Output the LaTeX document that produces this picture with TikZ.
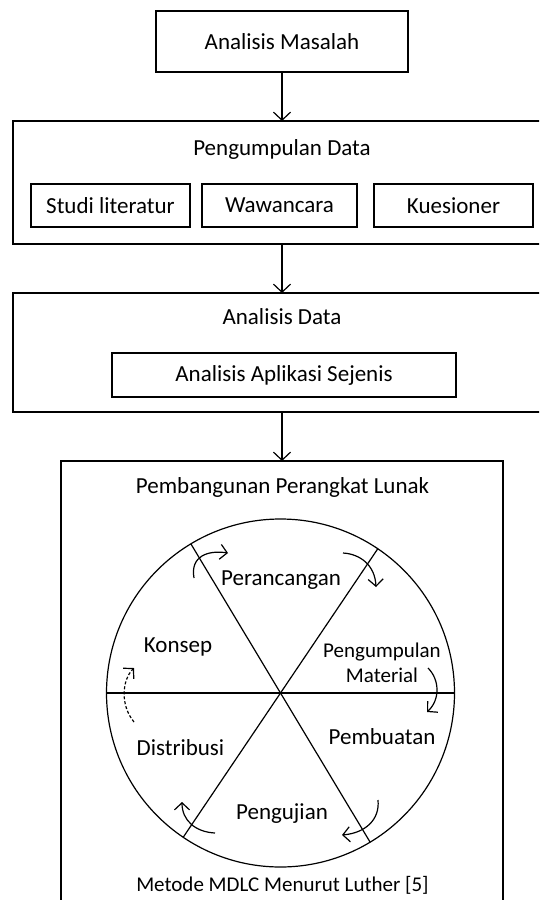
\documentclass[tikz,border=0pt]{standalone}
\usepackage{fontspec}
\setmainfont{Carlito}
\usetikzlibrary{arrows.meta}
\tikzset{
  boxstyle/.style={draw, line width=1.2pt, inner sep=0pt, outer sep=0pt, font=\fontsize{23}{27}\selectfont},
  lbl/.style={inner sep=0pt, font=\fontsize{23}{27}\selectfont},
  smalllbl/.style={inner sep=0pt, font=\fontsize{21}{25}\selectfont},
  conn/.style={line width=1.2pt, -{Straight Barb[length=8pt,width=17pt,line width=1.2pt]}},
  cyc/.style={line width=1.2pt, -{Straight Barb[length=7pt,width=15pt,line width=1.2pt]}},
}
\begin{document}
\begin{tikzpicture}[x=1pt,y=-1pt]
\path[use as bounding box] (0,0) rectangle (539,900);
\clip (0,0) rectangle (539,900);
% box 1
\node[boxstyle, minimum width=252pt, minimum height=61pt] (b1) at (282,41.5) {Analisis Masalah};
% box 2
\node[boxstyle, minimum width=538pt, minimum height=123pt] (b2) at (282,182.5) {};
\node[lbl] (t2) at (282,149) {Pengumpulan Data};
\node[boxstyle, minimum width=159pt, minimum height=43pt] (s1) at (110.5,205.5) {Studi literatur};
\node[boxstyle, minimum width=155pt, minimum height=43pt] (s2) at (279.5,205.5) {Wawancara};
\node[boxstyle, minimum width=159pt, minimum height=43pt] (s3) at (453.5,205.5) {Kuesioner};
% box 3
\node[boxstyle, minimum width=538pt, minimum height=119pt] (b3) at (282,352.5) {};
\node[lbl] (t3) at (282,317) {Analisis Data};
\node[boxstyle, minimum width=344pt, minimum height=44pt] (s4) at (284,375) {Analisis Aplikasi Sejenis};
% box 4
\node[boxstyle, minimum width=442pt, minimum height=470pt] (b4) at (282,696) {};
\node[lbl] (t4) at (282.5,487) {Pembangunan Perangkat Lunak};
\node[smalllbl] (cap) at (282.5,885) {Metode MDLC Menurut Luther [5]};
% connectors
\draw[conn] (b1.south) -- (b2.north);
\draw[conn] (b2.south) -- (b3.north);
\draw[conn] (b3.south) -- (b4.north);
% wheel
\node[draw, circle, line width=1.2pt, minimum size=348pt, inner sep=0pt, outer sep=0pt] (wheel) at (280.5,693) {};
\draw[line width=1.2pt] (wheel.56.5) -- (wheel.236.5);
\draw[line width=1.2pt] (wheel.121.7) -- (wheel.301.7);
\draw[line width=1.2pt] (wheel.west) -- (wheel.east);
% labels
\node[lbl] (l1) at (281,580) {Perancangan};
\node[lbl] (l0) at (178,647) {Konsep};
\node[smalllbl] (l2a) at (382,652) {Pengumpulan};
\node[smalllbl] (l2b) at (382,675) {Material};
\node[lbl] (l3) at (382,737) {Pembuatan};
\node[lbl] (l5) at (180.5,748) {Distribusi};
\node[lbl] (l4) at (282,814) {Pengujian};
% cycle arrows
\draw[cyc] (194,578) .. controls (190,556) and (208,550) .. (228,553);
\draw[cyc] (343,553) .. controls (360,554) and (375,565) .. (376,587);
\draw[cyc] (428,668) .. controls (440,680) and (440,700) .. (427,712);
\draw[cyc] (378,800) .. controls (380,820) and (365,833) .. (342,835);
\draw[cyc] (215,833) .. controls (195,832) and (182,820) .. (182,802);
\draw[cyc, dash pattern=on 3pt off 2pt] (134,722) .. controls (120,705) and (122,680) .. (134,668);
\end{tikzpicture}
\end{document}
